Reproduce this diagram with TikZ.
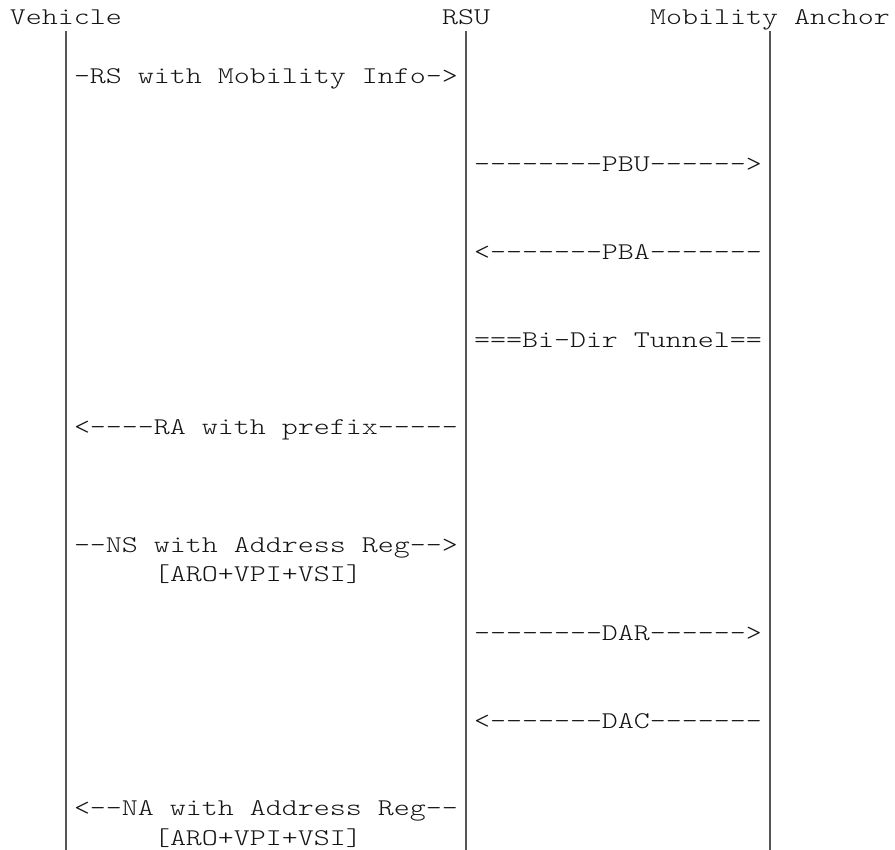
\documentclass[tikz,border=0pt]{standalone}
\usepackage{fontspec}
\newfontfamily\cour{lmmonolt10-regular.otf}
\begin{document}
\begin{tikzpicture}[x=1pt,y=-1pt,
  txt/.style={font=\cour\fontsize{24}{24}\selectfont, inner sep=0pt, outer sep=0pt,
              anchor=base west, xscale=1.2698, text={rgb,255:red,20;green,20;blue,20}},
  life/.style={line width=2pt, draw={rgb,255:red,85;green,85;blue,85}}]
\useasboundingbox (0,0) rectangle (895,850);
% headers (line 0)
\node[txt] (veh) at ({10+16*0},{24.6+29.31*0}) {Vehicle};
\node[txt] (rsu) at ({10+16*27},{24.6+29.31*0}) {RSU};
\node[txt] (ma)  at ({10+16*40},{24.6+29.31*0}) {Mobility Anchor};
% lifelines
\coordinate (vtop) at (66,31.5);  \coordinate (vbot) at (66,850);
\coordinate (rtop) at (466,31.5); \coordinate (rbot) at (466,850);
\coordinate (mtop) at (770,31.5); \coordinate (mbot) at (770,850);
\draw[life] (vtop) -- (vbot);
\draw[life] (rtop) -- (rbot);
\draw[life] (mtop) -- (mbot);
% messages
\node[txt] (rs)  at ({10+16*4},{24.6+29.31*2})  {-RS with Mobility Info->};
\node[txt] (pbu) at ({10+16*29},{24.6+29.31*5}) {--------PBU------>};
\node[txt] (pba) at ({10+16*29},{24.6+29.31*8}) {<-------PBA-------};
\node[txt] (tun) at ({10+16*29},{24.6+29.31*11}) {===Bi-Dir Tunnel==};
\node[txt] (ra)  at ({10+16*4},{24.6+29.31*14}) {<----RA with prefix-----};
\node[txt] (ns)  at ({10+16*4},{24.6+29.31*18}) {--NS with Address Reg-->};
\node[txt] (nsopt) at ({10+16*9},{24.6+29.31*19}) {[ARO+VPI+VSI]};
\node[txt] (dar) at ({10+16*29},{24.6+29.31*21}) {--------DAR------>};
\node[txt] (dac) at ({10+16*29},{24.6+29.31*24}) {<-------DAC-------};
\node[txt] (na)  at ({10+16*4},{24.6+29.31*27}) {<--NA with Address Reg--};
\node[txt] (naopt) at ({10+16*9},{24.6+29.31*28}) {[ARO+VPI+VSI]};
\end{tikzpicture}
\end{document}
